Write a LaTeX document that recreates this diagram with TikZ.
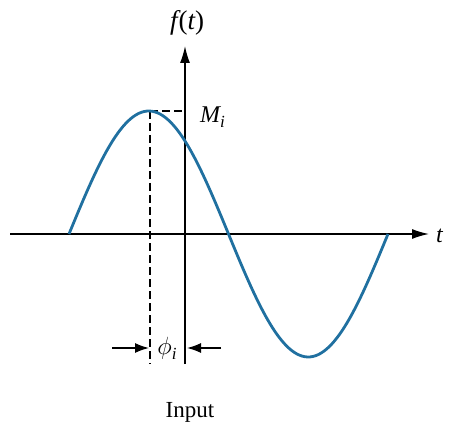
\documentclass[tikz,border=0pt]{standalone}
\usepackage{fontspec}
\setmainfont{Liberation Serif}
\usetikzlibrary{arrows.meta}
\definecolor{wave}{RGB}{32,112,160}
\begin{document}
\begin{tikzpicture}[x=1pt,y=-1pt,
  axis/.style={line width=1.4pt,-{Latex[length=17pt,width=10pt]}},
  guide/.style={line width=1.3pt,dash pattern=on 8pt off 4pt},
  dimarrow/.style={line width=1.4pt,-{Latex[length=14pt,width=10pt]}},
  lbl/.style={font=\fontsize{24}{28}\selectfont\itshape,inner sep=0pt}]
\useasboundingbox (0,0) rectangle (449,430);
% coordinates
\coordinate (xs) at (10,234);
\coordinate (xe) at (429,234);
\coordinate (ys) at (185,364);
\coordinate (ye) at (185,46);
\coordinate (pk) at (150,111);
\coordinate (pkax) at (185,111);
\coordinate (pkbot) at (150,364);
\coordinate (la) at (112,348);
\coordinate (lb) at (149,348);
\coordinate (ra) at (221,348);
\coordinate (rb) at (187,348);
% axes
\draw[axis] (xs) -- (xe);
\draw[axis] (ys) -- (ye);
% guides
\draw[guide] (pk) -- (pkax);
\draw[guide] (pk) -- (pkbot);
% wave
\draw[wave,line width=2.8pt,domain=69:388,samples=120,smooth]
  plot (\x,{234-123*sin((\x-69)/319*360)});
% phase arrows
\draw[dimarrow] (la) -- (lb);
\draw[dimarrow] (ra) -- (rb);
% labels
\node[lbl,font=\fontsize{27}{30}\selectfont\itshape] (ft) at (187,23) {f\hspace{1pt}{\upshape(}t{\upshape)}};
\node[lbl,anchor=west] (mi) at (200,117) {M\raisebox{-5pt}{\fontsize{17}{20}\selectfont i}};
\node[lbl,anchor=west] (tl) at (436,236) {t};
\node[lbl] (phi) at (167,348) {$\phi$\raisebox{-5pt}{\fontsize{17}{20}\selectfont i}};
\node[font=\fontsize{23}{26}\selectfont,inner sep=0pt] (inp) at (190,412) {Input};
\end{tikzpicture}
\end{document}
